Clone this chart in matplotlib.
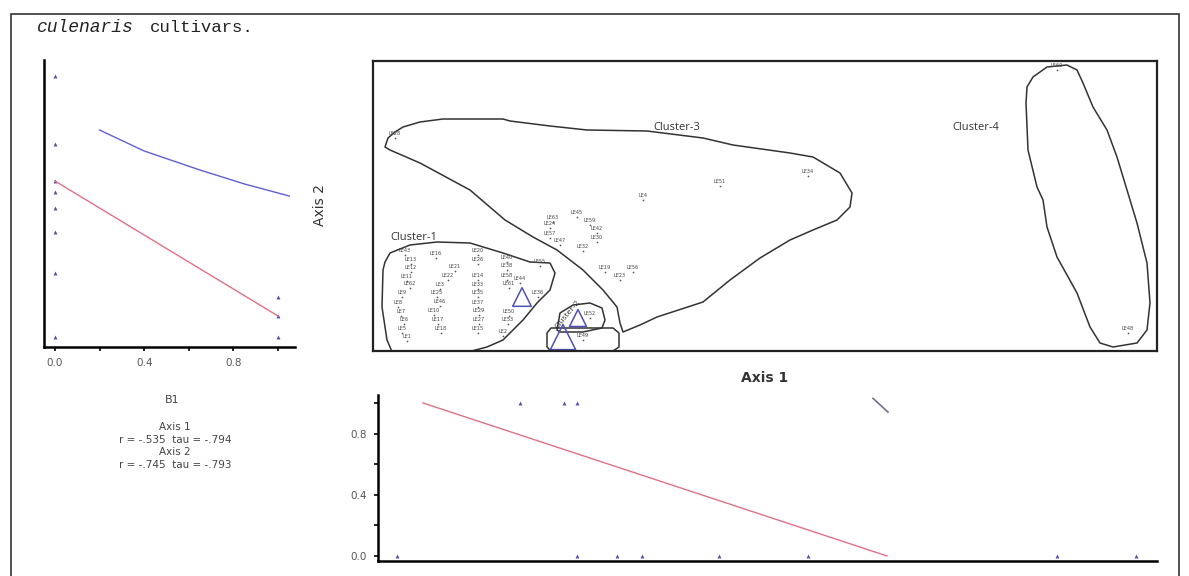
import matplotlib.pyplot as plt
from matplotlib.patches import Rectangle, Polygon
import numpy as np

W, H = 1189, 576

# ordination scores (Axis 1, Axis 2) of the cultivars
names = ["LE43", "LE13", "LE12", "LE11", "LE62", "LE9", "LE8", "LE7", "LE6", "LE5", "LE1",
         "LE16", "LE21", "LE22", "LE3", "LE25", "LE46", "LE10", "LE17", "LE18",
         "LE20", "LE26", "LE14", "LE33", "LE35", "LE37", "LE29", "LE27", "LE15",
         "LE40", "LE38", "LE58", "LE61", "LE44", "LE36", "LE50", "LE53", "LE2", "LE55",
         "LE45", "LE63", "LE59", "LE24", "LE42", "LE57", "LE30", "LE47", "LE32",
         "LE19", "LE56", "LE23", "LE4", "LE51", "LE34", "LE28",
         "LE52", "LE49", "LE60", "LE48"]
axis1 = [32, 38, 38, 34, 37, 29, 25, 28, 31, 29, 34,
         63, 82, 75, 67, 64, 67, 61, 65, 68,
         105, 105, 105, 105, 105, 105, 106, 106, 105,
         134, 134, 134, 136, 147, 165, 136, 135, 130, 167,
         204, 180, 217, 177, 224, 177, 224, 187, 210,
         232, 260, 247, 270, 347, 435, 22,
         217, 210, 684, 755]
axis2 = [96, 87, 79, 70, 63, 54, 44, 35, 27, 18, 10,
         93, 80, 71, 62, 54, 45, 36, 27, 18,
         96, 87, 71, 62, 54, 44, 36, 27, 18,
         89, 81, 71, 63, 68, 54, 35, 27, 15, 85,
         134, 129, 126, 123, 118, 113, 109, 106, 100,
         79, 79, 71, 151, 165, 175, 213,
         33, 11, 281, 18]

# group centroids (triangles)
cent_x = [149, 205, 190]
cent_y = [54, 33, 14]

# cluster hull outlines
c1_x = [17, 37, 64, 97, 130, 157, 177, 182, 177, 164, 150, 130, 114, 87, 20, 14, 9, 10, 12]
c1_y = [98, 106, 109, 108, 98, 89, 88, 78, 61, 48, 31, 11, 4, -3, -3, 11, 44, 81, 89]
c2_x = [184, 187, 200, 217, 229, 232, 229, 210, 187]
c2_y = [21, 38, 46, 48, 43, 31, 23, 19, 19]
c2b_x = [178, 240, 246, 246, 240, 178, 174, 174]
c2b_y = [23, 23, 18, 4, 0, 0, 4, 18]
c3_x = [12, 15, 22, 30, 47, 70, 130, 137, 177, 214, 274, 330, 360, 417, 440, 467, 479, 477,
        464, 440, 417, 387, 357, 330, 284, 267, 250, 247, 244, 230, 210, 184, 160, 132, 97, 47, 17]
c3_y = [204, 213, 219, 224, 229, 232, 232, 230, 225, 221, 220, 213, 206, 198, 194, 178, 158, 144,
        131, 121, 111, 93, 71, 49, 34, 26, 19, 28, 44, 61, 81, 101, 114, 131, 161, 188, 201]
c4_x = [654, 660, 674, 694, 704, 710, 720, 734, 744, 754, 764, 774, 777, 774, 764, 740, 727,
        717, 704, 684, 674, 670, 664, 655, 653]
c4_y = [264, 274, 284, 286, 281, 268, 244, 221, 194, 161, 128, 88, 48, 21, 8, 4, 8,
        24, 58, 94, 124, 151, 164, 201, 248]

# B1 against axis scores
b1_x0 = [0, 0, 0, 0, 0, 0, 0, 0]
b1_y0 = [275, 207, 170, 159, 143, 119, 78, 14]
b1_x1 = [1, 1, 1]
b1_y1 = [54, 35, 14]
red_x = [0, 1]
red_y = [170, 35]
blue_x = [0.2, 0.4, 0.65, 0.85, 1.05]
blue_y = [221, 200, 181, 167, 155]

# B1 against axis 1
bot_x1 = [147, 191, 204]
bot_x0 = [24, 204, 244, 269, 346, 435, 684, 763]
bot_red_x = [50, 514]
bot_red_y = [1.0, 0.0]
bot_gray_x = [500, 515]
bot_gray_y = [1.03, 0.94]

mcol = "#5050b0"


def rect(l, t, r, b):
    return [l / W, 1 - b / H, (r - l) / W, (b - t) / H]


fig = plt.figure(figsize=(W / 100, H / 100), dpi=100)
fig.add_artist(Rectangle((11 / W, -0.01), 1168 / W, 1 - 14 / H + 0.01,
                         transform=fig.transFigure, fill=False, lw=1.2, ec="#333333"))
fig.text(36 / W, 1 - 28 / H, "culenaris", family="Liberation Mono", style="italic",
         fontsize=13, va="center", color="#222222")
fig.text(150 / W, 1 - 28 / H, "cultivars.", family="Liberation Mono",
         fontsize=12.5, va="center", color="#222222")

# left plot
ax1 = fig.add_axes(rect(44, 60, 295, 347))
ax1.scatter(b1_x0, b1_y0, marker="^", s=8, color=mcol, lw=0)
ax1.scatter(b1_x1, b1_y1, marker="^", s=8, color=mcol, lw=0)
ax1.plot(red_x, red_y, color="#e07088", lw=1)
ax1.plot(blue_x, blue_y, color="#6060d0", lw=1)
ax1.set_xlim(-0.049, 1.076)
ax1.set_ylim(4, 291)
for s in ["top", "right"]:
    ax1.spines[s].set_visible(False)
ax1.spines["left"].set_linewidth(1.8)
ax1.spines["bottom"].set_linewidth(1.8)
ax1.set_yticks([])
ax1.set_xticks([0, 0.2, 0.4, 0.6, 0.8, 1.0])
ax1.set_xticklabels(["0.0", "", "0.4", "", "0.8", ""])
ax1.tick_params(axis="x", length=3, width=1.2, labelsize=7.5, labelcolor="#555555", pad=5)

fig.text(172 / W, 1 - 400 / H, "B1", fontsize=8, ha="center", va="center", color="#444444")
stats = ["Axis 1", "r = -.535  tau = -.794", "Axis 2", "r = -.745  tau = -.793"]
for i, s in enumerate(stats):
    fig.text(175 / W, 1 - (427 + i * 12.7) / H, s, fontsize=7.5, ha="center", va="center",
             color="#444444")

# ordination plot
ax2 = fig.add_axes(rect(373, 61, 1157, 351))
ax2.set_xlim(0, 784)
ax2.set_ylim(0, 290)
for s in ax2.spines.values():
    s.set_linewidth(1.6)
    s.set_color("#222222")
ax2.set_xticks([])
ax2.set_yticks([])
for xs, ys in [(c1_x, c1_y), (c2_x, c2_y), (c2b_x, c2b_y), (c3_x, c3_y), (c4_x, c4_y)]:
    ax2.add_patch(Polygon(np.column_stack([xs, ys]), closed=True, fill=False,
                          ec="#333333", lw=1.1, joinstyle="round"))
ax2.scatter(axis1, axis2, s=1.5, color="#555555", lw=0)
for n, x, y in zip(names, axis1, axis2):
    ax2.text(x, y + 2, n, fontsize=3.6, ha="center", va="bottom", color="#444444")
ax2.scatter(cent_x, cent_y, marker="^", s=[180, 150, 330], facecolors="none",
            edgecolors="#5050b8", lw=1.1)
ax2.text(280, 224, "Cluster-3", fontsize=8, va="center", color="#333333", family="Open Sans")
ax2.text(579, 224, "Cluster-4", fontsize=8, va="center", color="#333333", family="Open Sans")
ax2.text(17, 114, "Cluster-1", fontsize=8, va="center", color="#333333", family="Open Sans")
ax2.text(195, 36, "Cluster-2", fontsize=6, ha="center", va="center", rotation=50,
         color="#333333", family="Open Sans")
fig.text(320 / W, 1 - 205 / H, "Axis 2", fontsize=10, rotation=90, ha="center",
         va="center", color="#333333")
fig.text(765 / W, 1 - 378 / H, "Axis 1", fontsize=10, weight="bold", ha="center",
         va="center", color="#333333")

# bottom plot
ax3 = fig.add_axes(rect(378, 395, 1157, 561))
ax3.scatter(bot_x1, [1.0] * len(bot_x1), marker="^", s=8, color=mcol, lw=0)
ax3.scatter(bot_x0, [0.0] * len(bot_x0), marker="^", s=8, color=mcol, lw=0)
ax3.plot(bot_red_x, bot_red_y, color="#e07088", lw=1)
ax3.plot(bot_gray_x, bot_gray_y, color="#707090", lw=1.2)
ax3.set_xlim(5, 784)
ax3.set_ylim(-0.033, 1.052)
for s in ["top", "right"]:
    ax3.spines[s].set_visible(False)
ax3.spines["left"].set_linewidth(1.8)
ax3.spines["bottom"].set_linewidth(1.8)
ax3.set_xticks([])
ax3.set_yticks([0, 0.2, 0.4, 0.6, 0.8, 1.0])
ax3.set_yticklabels(["0.0", "", "0.4", "", "0.8", ""])
ax3.tick_params(axis="y", length=3, width=1.2, labelsize=7.5, labelcolor="#555555", pad=5)

fig.savefig("out.png", dpi=100)
